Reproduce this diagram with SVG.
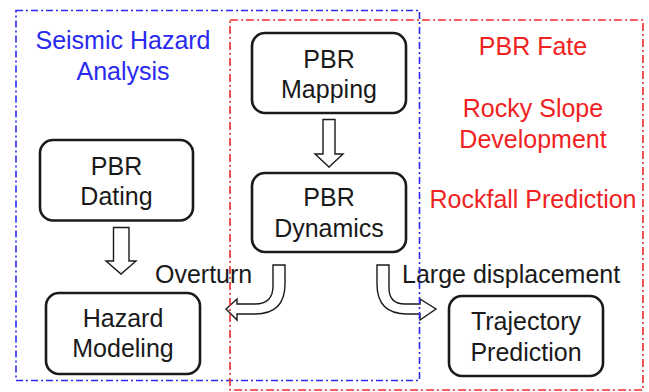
<svg xmlns="http://www.w3.org/2000/svg" width="649" height="392" viewBox="0 0 649 392">
  <style>
    .region { fill: none; stroke-width: 1.6; }
    .blue { stroke: #2a2aee; stroke-dasharray: 7 3 2 3; }
    .red { stroke: #ee2a2a; stroke-dasharray: 8 3 2 3; }
    .node rect { fill: #fff; stroke: #1a1a1a; stroke-width: 2.6; }
    text { font-family: "Liberation Sans", Arial, sans-serif; font-size: 25px; }
    .node text { fill: #1a1a1a; text-anchor: middle; }
    .lbl { fill: #1a1a1a; }
    .title-blue { fill: #2a2aee; text-anchor: middle; }
    .title-red { fill: #f02222; text-anchor: middle; }
    .arrow { fill: #fff; stroke: #1a1a1a; stroke-width: 1.4; stroke-linejoin: miter; }
  </style>

  <rect width="649" height="392" fill="#fff"/>

  <!-- region titles -->
  <g id="seismic-title">
    <text class="title-blue" x="123" y="49">Seismic Hazard</text>
    <text class="title-blue" x="123" y="80">Analysis</text>
  </g>
  <g id="fate-title">
    <text class="title-red" x="533" y="55">PBR Fate</text>
    <text class="title-red" x="533" y="117">Rocky Slope</text>
    <text class="title-red" x="533" y="148">Development</text>
    <text class="title-red" x="533" y="208">Rockfall Prediction</text>
  </g>

  <!-- connectors -->
  <g id="connectors">
    <path class="arrow" d="M323 119.5 L335 119.5 L335 154 L343 154 L329 167 L315 154 L323 154 Z"/>
    <path class="arrow" d="M113.5 227.5 L129 227.5 L129 261 L136 261 L121 274 L106 261 L113.5 261 Z"/>
    <path class="arrow" d="M285 265 L285 284 Q285 314 255 314 L237 314 L237 320 L226 309 L237 299 L237 304 L255 304 Q273 304 273 286 L273 265 Z"/>
    <path class="arrow" d="M377 265 L377 284 Q377 314 407 314 L420 314 L420 320 L436 309 L420 299 L420 304 L405 304 Q389 304 389 288 L389 265 Z"/>
    <text class="lbl" x="155" y="283">Overturn</text>
    <text class="lbl" x="402" y="283">Large displacement</text>
  </g>

  <!-- region borders, drawn over the connectors -->
  <g id="seismic-region">
    <rect class="region blue" x="16" y="10.5" width="403.5" height="370"/>
  </g>
  <g id="fate-region">
    <rect class="region red" x="230" y="20" width="413" height="370"/>
  </g>

  <!-- nodes -->
  <g id="pbr-mapping" class="node">
    <rect x="252" y="33" width="154" height="80" rx="13"/>
    <text x="329" y="67.5">PBR</text>
    <text x="329" y="98">Mapping</text>
  </g>
  <g id="pbr-dating" class="node">
    <rect x="40" y="140" width="153" height="80.5" rx="13"/>
    <text x="116.5" y="174.5">PBR</text>
    <text x="116.5" y="205">Dating</text>
  </g>
  <g id="pbr-dynamics" class="node">
    <rect x="252" y="173" width="154" height="79" rx="13"/>
    <text x="329" y="206">PBR</text>
    <text x="329" y="236.5">Dynamics</text>
  </g>
  <g id="hazard-modeling" class="node">
    <rect x="46" y="293" width="154" height="81" rx="13"/>
    <text x="123" y="327">Hazard</text>
    <text x="123" y="357">Modeling</text>
  </g>
  <g id="trajectory-prediction" class="node">
    <rect x="449" y="296" width="154" height="80" rx="13"/>
    <text x="526" y="330">Trajectory</text>
    <text x="526" y="360.5">Prediction</text>
  </g>
</svg>
